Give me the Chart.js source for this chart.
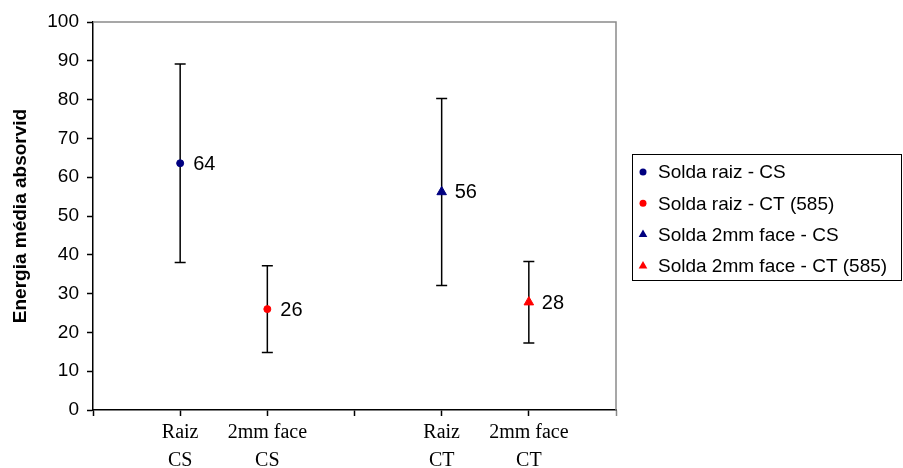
<!DOCTYPE html>
<html>
<head>
<meta charset="utf-8">
<script src="https://cdn.jsdelivr.net/npm/chart.js@4.4.1/dist/chart.umd.min.js"></script>
<style>
  html, body { margin: 0; padding: 0; background: #fff; }
</style>
</head>
<body>
<canvas id="energyChart" width="903" height="468"></canvas>
<script>
// categories on the x axis (positions 0..6, empty slots have no label)
const categories = ['', ['Raiz', 'CS'], ['2mm face', 'CS'], '', ['Raiz', 'CT'], ['2mm face', 'CT'], ''];
const seriesNames = ['Solda raiz - CS', 'Solda raiz - CT (585)', 'Solda 2mm face - CS', 'Solda 2mm face - CT (585)'];
const xPositions = [1, 2, 4, 5];
const meanValues = [63.6, 26.0, 56.2, 27.8];
const errorValues = [25.6, 11.2, 24.1, 10.5];
const seriesColors = ['#000080', '#ff0000', '#000080', '#ff0000'];
const seriesShapes = ['circle', 'circle', 'triangle', 'triangle'];

const SANS = "'Liberation Sans', Arial, sans-serif";
const SERIF = "'Liberation Serif', 'Times New Roman', serif";

const datasets = seriesNames.map((name, i) => ({
  label: name,
  data: [{ x: xPositions[i], y: meanValues[i] }],
  pointStyle: seriesShapes[i],
  pointRadius: seriesShapes[i] === 'triangle' ? 5.5 : 3.5,
  pointBorderWidth: 1,
  backgroundColor: seriesColors[i],
  borderColor: seriesColors[i],
  showLine: false
}));

// error bars, behind the markers
const errorBars = {
  id: 'errorBars',
  beforeDatasetsDraw(chart) {
    const ctx = chart.ctx;
    const y = chart.scales.y;
    ctx.save();
    ctx.strokeStyle = '#000';
    ctx.lineWidth = 1.5;
    chart.data.datasets.forEach((ds, i) => {
      const pt = chart.getDatasetMeta(i).data[0];
      const top = y.getPixelForValue(meanValues[i] + errorValues[i]);
      const bot = y.getPixelForValue(meanValues[i] - errorValues[i]);
      ctx.beginPath();
      ctx.moveTo(pt.x, top); ctx.lineTo(pt.x, bot);
      ctx.moveTo(pt.x - 5.5, top); ctx.lineTo(pt.x + 5.5, top);
      ctx.moveTo(pt.x - 5.5, bot); ctx.lineTo(pt.x + 5.5, bot);
      ctx.stroke();
    });
    // gray frame on top and right
    const a = chart.chartArea;
    ctx.strokeStyle = '#8a8a8a';
    ctx.beginPath();
    ctx.moveTo(a.left, a.top); ctx.lineTo(a.right, a.top); ctx.lineTo(a.right, a.bottom);
    ctx.stroke();
    ctx.restore();
  }
};

// value labels right of each marker
const valueLabels = {
  id: 'valueLabels',
  afterDatasetsDraw(chart) {
    const ctx = chart.ctx;
    ctx.save();
    ctx.font = '20px ' + SANS;
    ctx.fillStyle = '#000';
    ctx.textAlign = 'left';
    ctx.textBaseline = 'middle';
    chart.data.datasets.forEach((ds, i) => {
      const pt = chart.getDatasetMeta(i).data[0];
      ctx.fillText(String(Math.round(meanValues[i])), pt.x + 13, pt.y + 1);
    });
    ctx.restore();
  }
};

// boxed legend on the right
const boxLegend = {
  id: 'boxLegend',
  afterDraw(chart) {
    const ctx = chart.ctx;
    ctx.save();
    ctx.strokeStyle = '#000';
    ctx.lineWidth = 1;
    ctx.strokeRect(632.5, 154.5, 269, 126);
    ctx.font = '19px ' + SANS;
    ctx.textBaseline = 'middle';
    chart.data.datasets.forEach((ds, i) => {
      const yy = 172 + i * 31.3;
      ctx.fillStyle = seriesColors[i];
      ctx.strokeStyle = seriesColors[i];
      Chart.helpers.drawPoint(ctx, {
        pointStyle: seriesShapes[i],
        radius: seriesShapes[i] === 'triangle' ? 5 : 3.5,
        rotation: 0,
        borderWidth: 0
      }, 643, yy);
      ctx.fillStyle = '#000';
      ctx.fillText(ds.label, 658, yy + 1);
    });
    ctx.restore();
  }
};

new Chart(document.getElementById('energyChart'), {
  type: 'scatter',
  data: { datasets },
  options: {
    responsive: false,
    animation: false,
    layout: { padding: { top: 22, right: 287, bottom: 0, left: 0 } },
    plugins: {
      legend: { display: false },
      tooltip: { enabled: false }
    },
    scales: {
      x: {
        type: 'linear',
        min: 0,
        max: 6,
        afterFit(scale) { scale.height = 58; },
        grid: {
          drawOnChartArea: false,
          tickLength: 6,
          tickWidth: 1.5,
          tickColor: (c) => (c.tick && c.tick.value === 6 ? '#8a8a8a' : '#000')
        },
        border: { color: '#000', width: 1.5 },
        ticks: {
          stepSize: 1,
          autoSkip: false,
          maxRotation: 0,
          padding: 3,
          color: '#000',
          font: { family: SERIF, size: 20, lineHeight: 1.4 },
          callback: (v) => categories[v] ?? ''
        }
      },
      y: {
        min: 0,
        max: 100,
        afterFit(scale) { scale.width = 93; },
        grid: {
          drawOnChartArea: false,
          tickLength: 6,
          tickWidth: 1.5,
          tickColor: '#000'
        },
        border: { color: '#000', width: 1.5 },
        ticks: {
          stepSize: 10,
          padding: 8,
          color: '#000',
          font: { family: SANS, size: 19 }
        },
        title: {
          display: true,
          text: 'Energia média absorvid',
          color: '#000',
          padding: { top: 9, bottom: 0 },
          font: { family: SANS, size: 19, weight: 'bold' }
        }
      }
    }
  },
  plugins: [errorBars, valueLabels, boxLegend]
});
</script>
</body>
</html>
